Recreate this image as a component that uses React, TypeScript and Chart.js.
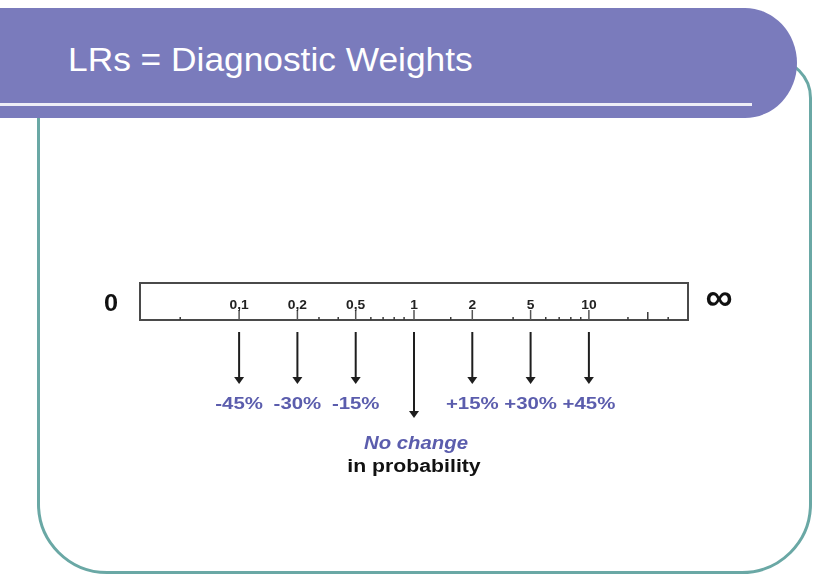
import React, { useEffect, useRef } from "react";
import { Chart, registerables } from "chart.js";

Chart.register(...registerables);

// ---- data ----
const TITLE = "LRs = Diagnostic Weights";
const TICK_LABELS = ["0,1", "0,2", "0,5", "1", "2", "5", "10"];
const TICK_POSITIONS = [-3, -2, -1, 0, 1, 2, 3];
const MINOR_TICKS = [-4.01, -1.63, -1.3, -0.74, -0.53, -0.34, -0.17, 0.63, 1.7, 2.26, 2.49, 2.69, 2.86, 3.67, 4.36];
const TALL_MINOR_TICKS = [4.01];
const CHANGE_LABELS = ["-45%", "-30%", "-15%", "", "+15%", "+30%", "+45%"];
const ARROW_LONG = [false, false, false, true, false, false, false];
const SCALE_MIN = -4.7;
const SCALE_MAX = 4.7;
const LEFT_END_LABEL = "0";
const RIGHT_END_LABEL = "∞";
const NO_CHANGE_LINE1 = "No change";
const NO_CHANGE_LINE2 = "in probability";

const FONT = "'Liberation Sans', Arial, Helvetica, sans-serif";
const BLUE = "#5B5DAD";

function stretchedText(
  ctx: CanvasRenderingContext2D,
  text: string,
  x: number,
  y: number,
  font: string,
  color: string,
  sx: number,
  baseline: CanvasTextBaseline = "alphabetic"
) {
  ctx.save();
  ctx.translate(x, y);
  ctx.scale(sx, 1);
  ctx.font = font;
  ctx.fillStyle = color;
  ctx.textAlign = "center";
  ctx.textBaseline = baseline;
  ctx.fillText(text, 0, 0);
  ctx.restore();
}

const rulerPlugin = {
  id: "ruler",
  afterDatasetsDraw(chart: any) {
    const { ctx, chartArea } = chart;
    const xs = chart.scales.x;
    const { left, right, top, bottom } = chartArea;
    ctx.save();

    // ruler box
    ctx.strokeStyle = "#4a4a4a";
    ctx.lineWidth = 2;
    ctx.strokeRect(left, top, right - left, bottom - top);

    // minor ticks
    ctx.strokeStyle = "#3a3a3a";
    ctx.lineWidth = 1.5;
    MINOR_TICKS.forEach((v) => {
      const px = xs.getPixelForValue(v);
      ctx.beginPath();
      ctx.moveTo(px, bottom - 3);
      ctx.lineTo(px, bottom);
      ctx.stroke();
    });
    TALL_MINOR_TICKS.forEach((v) => {
      const px = xs.getPixelForValue(v);
      ctx.beginPath();
      ctx.moveTo(px, bottom - 8);
      ctx.lineTo(px, bottom);
      ctx.stroke();
    });

    // major ticks + labels
    const meta = chart.getDatasetMeta(0);
    TICK_POSITIONS.forEach((v, i) => {
      const px = meta.data[i] ? meta.data[i].x : xs.getPixelForValue(v);
      ctx.strokeStyle = "#555";
      ctx.lineWidth = 1.5;
      ctx.beginPath();
      ctx.moveTo(px, bottom - 10);
      ctx.lineTo(px, bottom);
      ctx.stroke();
      stretchedText(ctx, TICK_LABELS[i], px, bottom - 11, `bold 12px ${FONT}`, "#222", 1.15);

      // arrows
      const y0 = bottom + 12;
      const y1 = ARROW_LONG[i] ? bottom + 98 : bottom + 64;
      ctx.strokeStyle = "#1e1e1e";
      ctx.fillStyle = "#1e1e1e";
      ctx.lineWidth = 2;
      ctx.beginPath();
      ctx.moveTo(px, y0);
      ctx.lineTo(px, y1 - 6);
      ctx.stroke();
      ctx.beginPath();
      ctx.moveTo(px - 5, y1 - 7);
      ctx.lineTo(px + 5, y1 - 7);
      ctx.lineTo(px, y1);
      ctx.closePath();
      ctx.fill();

      if (CHANGE_LABELS[i]) {
        stretchedText(ctx, CHANGE_LABELS[i], px, bottom + 89, `bold 17px ${FONT}`, BLUE, 1.2);
      }
    });

    // end labels
    stretchedText(ctx, LEFT_END_LABEL, left - 29, top + 28, `bold 23px ${FONT}`, "#111", 1.1);
    stretchedText(ctx, RIGHT_END_LABEL, right + 31, top + 17, `bold 38px ${FONT}`, "#111", 1.0, "middle");

    // no change text
    const cx = xs.getPixelForValue(0);
    stretchedText(ctx, NO_CHANGE_LINE1, cx + 2, bottom + 129, `italic bold 18px ${FONT}`, BLUE, 1.13);
    stretchedText(ctx, NO_CHANGE_LINE2, cx, bottom + 152, `bold 18px ${FONT}`, "#111", 1.18);

    ctx.restore();
  },
};

export default function App() {
  const ref = useRef<HTMLCanvasElement | null>(null);

  useEffect(() => {
    document.body.style.margin = "0";
    const canvas = ref.current;
    if (!canvas) return;
    const chart = new Chart(canvas, {
      type: "scatter",
      data: {
        datasets: [
          {
            label: "LR",
            data: TICK_POSITIONS.map((x) => ({ x, y: 0.5 })),
            pointRadius: 0,
            showLine: false,
          },
        ],
      },
      options: {
        animation: false,
        responsive: false,
        devicePixelRatio: 1,
        layout: { padding: { left: 140, right: 129, top: 283, bottom: 255 } },
        plugins: { legend: { display: false }, tooltip: { enabled: false }, title: { display: false } },
        scales: {
          x: { type: "linear", min: SCALE_MIN, max: SCALE_MAX, display: false },
          y: { type: "linear", min: 0, max: 1, display: false },
        },
      },
      plugins: [rulerPlugin],
    });
    return () => chart.destroy();
  }, []);

  return (
    <div style={{ position: "absolute", left: 0, top: 0, width: 817, height: 575, overflow: "hidden", background: "#fff" }}>
      <div
        style={{
          position: "absolute",
          left: 36.5,
          top: 58,
          width: 775,
          height: 516,
          boxSizing: "border-box",
          border: "3px solid #6AA8A5",
          borderRadius: "40px 40px 70px 70px",
        }}
      />
      <div
        style={{
          position: "absolute",
          left: 0,
          top: 8,
          width: 797,
          height: 110,
          background: "#7A7BBC",
          borderRadius: "0 52px 52px 0 / 0 55px 55px 0",
        }}
      />
      <div style={{ position: "absolute", left: 0, top: 103, width: 752, height: 3, background: "#EEEEF7" }} />
      <div
        style={{
          position: "absolute",
          left: 68,
          top: 43,
          fontFamily: FONT,
          fontSize: 33,
          lineHeight: "33px",
          color: "#fff",
          whiteSpace: "nowrap",
          transform: "scaleX(1.07)",
          transformOrigin: "left top",
        }}
      >
        {TITLE}
      </div>
      <canvas ref={ref} width={817} height={575} style={{ position: "absolute", left: 0, top: 0 }} />
    </div>
  );
}
